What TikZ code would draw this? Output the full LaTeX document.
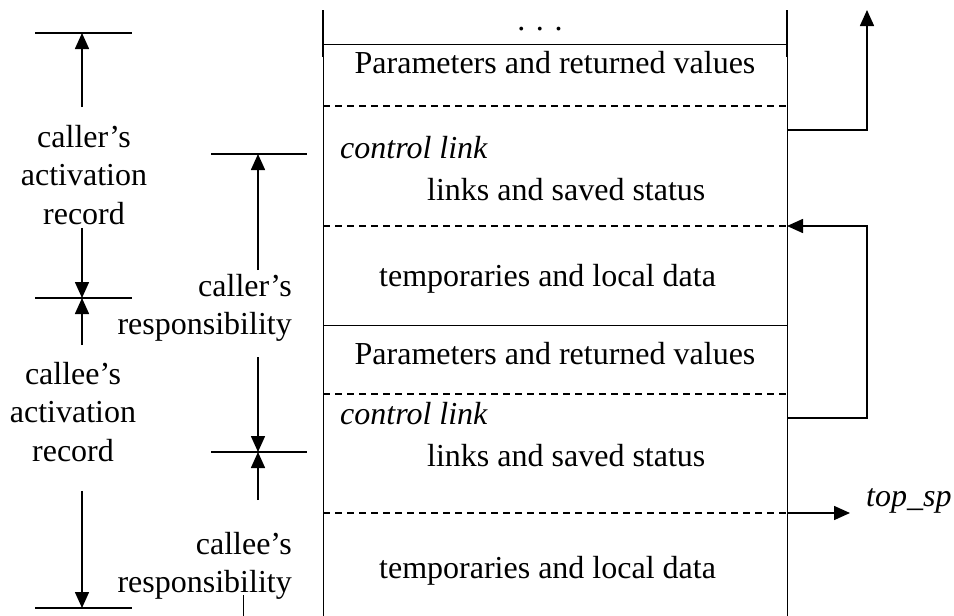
\documentclass[tikz,border=0pt]{standalone}
\usepackage{fontspec}
\setmainfont{Liberation Serif}
\usetikzlibrary{arrows.meta,calc}
\tikzset{
	divider/.style={line width=1pt},
	dashdivider/.style={line width=1.3pt,dash pattern=on 7pt off 5pt},
	dimline/.style={line width=1.6pt},
	dimarrow/.style={line width=1.6pt,-{Triangle[width=14pt,length=16pt]}},
	frametext/.style={inner sep=0pt,anchor=base},
	sidetext/.style={inner sep=0pt,align=center,anchor=north},
}
\begin{document}
\begin{tikzpicture}[x=1pt,y=-1pt,font=\fontsize{32}{38.5}\selectfont]
	\useasboundingbox (0,0) rectangle (954,616);

	% frame of the stack
	\draw[divider] (323,44) -- (323,616);
	\draw[divider] (787,44) -- (787,616);
	\draw[line width=2pt] (323,10) -- (323,57);
	\draw[line width=2pt] (787,10) -- (787,57);
	\foreach \y in {44,325}
		\draw[divider] (323,\y) -- (787,\y);
	\foreach \y in {106,226,394,513}
		\draw[dashdivider] (323,\y) -- (787,\y);

	% texts in the frame
	\node[frametext] (dots) at (540,30) {. . .};
	\node[frametext] (parA) at (555,73) {Parameters and returned values};
	\node[frametext,anchor=base west] (ctlA) at (340,158) {\textit{control link}};
	\node[frametext,anchor=base west] (lnkA) at (427,200) {links and saved status};
	\node[frametext,anchor=base west] (tmpA) at (379,286) {temporaries and local data};
	\node[frametext] (parB) at (555,364) {Parameters and returned values};
	\node[frametext,anchor=base west] (ctlB) at (340,424) {\textit{control link}};
	\node[frametext,anchor=base west] (lnkB) at (427,466) {links and saved status};
	\node[frametext,anchor=base west] (tmpB) at (379,578) {temporaries and local data};

	% control links and top_sp
	\coordinate (linkA) at (787,130);
	\coordinate (linkB) at (787,418);
	\coordinate (endA) at (867,10);
	\coordinate (endB) at (787,226);
	\coordinate (spA) at (787,513);
	\node[frametext,anchor=base west] (topsp) at (866,506) {\textit{top\_sp}};
	\draw[dimarrow] (linkA) -| (endA);
	\draw[dimarrow] (linkB) -- (linkB -| endA) |- (endB);
	\draw[dimarrow] (spA) -- ($(spA -| topsp.west)+(-16,0)$);

	% caller's and callee's activation records
	\foreach \y/\n in {33/A,298/B,608/C} {
		\coordinate (rec\n) at (82,\y);
		\draw[dimline] (35,\y) -- (132,\y);
	}
	\node[sidetext] (callerAR) at (84,125) {caller’s\\activation\\record};
	\node[sidetext] (calleeAR) at (73,362) {callee’s\\activation\\record};
	\draw[dimarrow] ($(callerAR.north -| recA)+(0,-18)$) -- (recA);
	\draw[dimarrow] ($(callerAR.south -| recB)+(0,3)$) -- (recB);
	\draw[dimarrow] ($(calleeAR.north -| recB)+(0,-17)$) -- (recB);
	\draw[dimarrow] ($(calleeAR.south -| recC)+(0,29)$) -- (recC);

	% caller's and callee's responsibility
	\foreach \y/\n in {154/A,452/B} {
		\coordinate (res\n) at (258,\y);
		\draw[dimline] (211,\y) -- (307,\y);
	}
	\node[sidetext,align=right,anchor=north east] (callerR) at (292,274) {caller’s\\responsibility};
	\node[sidetext,align=right,anchor=north east] (calleeR) at (292,532) {callee’s\\responsibility};
	\draw[dimarrow] ($(callerR.north -| resA)+(0,-4)$) -- (resA);
	\draw[dimarrow] ($(callerR.south -| resB)+(0,15)$) -- (resB);
	\draw[dimarrow] ($(calleeR.north -| resB)+(0,-32)$) -- (resB);
	\coordinate (stub) at (243,595);
	\coordinate (stubEnd) at (243,616);
	\draw[divider] (stub) -- (stubEnd);
\end{tikzpicture}
\end{document}
